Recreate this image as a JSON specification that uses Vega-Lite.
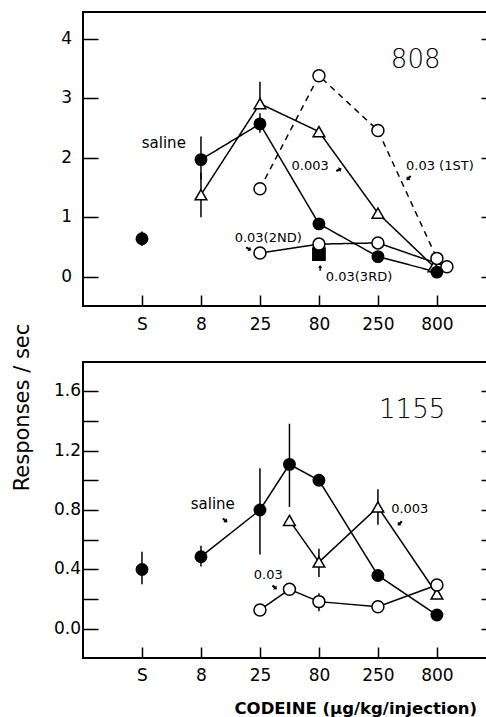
{
  "$schema": "https://vega.github.io/schema/vega-lite/v6.json",
  "autosize": {"type": "pad"},
  "padding": {"left": 9, "top": 11, "right": 0, "bottom": 0},
  "background": "white",
  "bounds": "flush",
  "spacing": 56,
  "config": {
    "view": {"stroke": "black", "strokeWidth": 2},
    "axis": {"domain": false, "grid": false, "ticks": false, "gridColor": "black", "gridWidth": 1.5, "gridOpacity": 1, "labelColor": "black", "labelFont": "DejaVu Sans", "labelFontSize": 17, "titleColor": "black"}
  },
  "datasets": {
    "pts": [
      {"p": "808", "g": null, "s": "fs", "d": null, "x": 3, "y": 0.38},
      {"p": "808", "g": "t", "s": "ot", "d": "solid", "x": 1, "y": 1.38, "lo": 1.0, "hi": 1.75},
      {"p": "808", "g": "t", "s": "ot", "d": "solid", "x": 2, "y": 2.91, "lo": 2.91, "hi": 3.28},
      {"p": "808", "g": "t", "s": "ot", "d": "solid", "x": 3, "y": 2.44},
      {"p": "808", "g": "t", "s": "ot", "d": "solid", "x": 4, "y": 1.07},
      {"p": "808", "g": "t", "s": "ot", "d": "solid", "x": 4.95, "y": 0.17},
      {"p": "808", "g": "c1", "s": "oc", "d": "dashed", "x": 2, "y": 1.48},
      {"p": "808", "g": "c1", "s": "oc", "d": "dashed", "x": 3, "y": 3.38},
      {"p": "808", "g": "c1", "s": "oc", "d": "dashed", "x": 4, "y": 2.46},
      {"p": "808", "g": "c1", "s": "oc", "d": "dashed", "x": 5, "y": 0.31},
      {"p": "808", "g": "c2", "s": "oc", "d": "solid", "x": 2, "y": 0.40},
      {"p": "808", "g": "c2", "s": "oc", "d": "solid", "x": 3, "y": 0.55},
      {"p": "808", "g": "c2", "s": "oc", "d": "solid", "x": 4, "y": 0.57},
      {"p": "808", "g": "c2", "s": "oc", "d": "solid", "x": 5.17, "y": 0.17},
      {"p": "808", "g": null, "s": "fc", "d": null, "x": 0, "y": 0.64, "lo": 0.52, "hi": 0.76},
      {"p": "808", "g": "sal", "s": "fc", "d": "solid", "x": 1, "y": 1.97, "lo": 1.63, "hi": 2.36},
      {"p": "808", "g": "sal", "s": "fc", "d": "solid", "x": 2, "y": 2.57, "lo": 2.42, "hi": 2.75},
      {"p": "808", "g": "sal", "s": "fc", "d": "solid", "x": 3, "y": 0.89},
      {"p": "808", "g": "sal", "s": "fc", "d": "solid", "x": 4, "y": 0.34},
      {"p": "808", "g": "sal", "s": "fc", "d": "solid", "x": 5, "y": 0.08},
      {"p": "1155", "g": "t", "s": "ot", "d": "solid", "x": 2.5, "y": 0.73},
      {"p": "1155", "g": "t", "s": "ot", "d": "solid", "x": 3, "y": 0.45, "lo": 0.35, "hi": 0.54},
      {"p": "1155", "g": "t", "s": "ot", "d": "solid", "x": 4, "y": 0.82, "lo": 0.70, "hi": 0.94},
      {"p": "1155", "g": "t", "s": "ot", "d": "solid", "x": 5, "y": 0.235},
      {"p": "1155", "g": "c", "s": "oc", "d": "solid", "x": 2, "y": 0.128},
      {"p": "1155", "g": "c", "s": "oc", "d": "solid", "x": 2.5, "y": 0.267},
      {"p": "1155", "g": "c", "s": "oc", "d": "solid", "x": 3, "y": 0.184, "lo": 0.12, "hi": 0.24},
      {"p": "1155", "g": "c", "s": "oc", "d": "solid", "x": 4, "y": 0.15},
      {"p": "1155", "g": "c", "s": "oc", "d": "solid", "x": 5, "y": 0.296},
      {"p": "1155", "g": null, "s": "fc", "d": null, "x": 0, "y": 0.40, "lo": 0.30, "hi": 0.52},
      {"p": "1155", "g": "sal", "s": "fc", "d": "solid", "x": 1, "y": 0.486, "lo": 0.42, "hi": 0.56},
      {"p": "1155", "g": "sal", "s": "fc", "d": "solid", "x": 2, "y": 0.80, "lo": 0.50, "hi": 1.08},
      {"p": "1155", "g": "sal", "s": "fc", "d": "solid", "x": 2.5, "y": 1.107, "lo": 0.82, "hi": 1.38},
      {"p": "1155", "g": "sal", "s": "fc", "d": "solid", "x": 3, "y": 1.0},
      {"p": "1155", "g": "sal", "s": "fc", "d": "solid", "x": 4, "y": 0.36},
      {"p": "1155", "g": "sal", "s": "fc", "d": "solid", "x": 5, "y": 0.094}
    ],
    "ann": [
      {"p": "808", "k": "big", "x": 4.64, "y": 3.65, "t": "808"},
      {"p": "808", "k": "sal", "x": 0.37, "y": 2.25, "t": "saline"},
      {"p": "808", "k": "small", "x": 2.85, "y": 1.87, "t": "0.003"},
      {"p": "808", "k": "small", "x": 5.05, "y": 1.87, "t": "0.03 (1ST)"},
      {"p": "808", "k": "small", "x": 2.14, "y": 0.65, "t": "0.03(2ND)"},
      {"p": "808", "k": "small", "x": 3.68, "y": -0.01, "t": "0.03(3RD)"},
      {"p": "1155", "k": "big", "x": 4.58, "y": 1.47, "t": "1155"},
      {"p": "1155", "k": "sal", "x": 1.2, "y": 0.84, "t": "saline"},
      {"p": "1155", "k": "small", "x": 4.54, "y": 0.81, "t": "0.003"},
      {"p": "1155", "k": "small", "x": 2.14, "y": 0.36, "t": "0.03"}
    ],
    "ylab": [
      {"p": "808", "v": 0, "t": "0"},
      {"p": "808", "v": 1, "t": "1"},
      {"p": "808", "v": 2, "t": "2"},
      {"p": "808", "v": 3, "t": "3"},
      {"p": "808", "v": 4, "t": "4"},
      {"p": "1155", "v": 0, "t": "0.0"},
      {"p": "1155", "v": 0.4, "t": "0.4"},
      {"p": "1155", "v": 0.8, "t": "0.8"},
      {"p": "1155", "v": 1.2, "t": "1.2"},
      {"p": "1155", "v": 1.6, "t": "1.6"}
    ],
    "arr": [
      {"p": "808", "x": 3.34, "y": 1.80, "dir": "r"},
      {"p": "808", "x": 4.52, "y": 1.66, "dir": "dl"},
      {"p": "808", "x": 1.81, "y": 0.47, "dir": "dr"},
      {"p": "808", "x": 3.02, "y": 0.15, "dir": "up"},
      {"p": "1155", "x": 1.41, "y": 0.73, "dir": "dr"},
      {"p": "1155", "x": 4.37, "y": 0.71, "dir": "dl"},
      {"p": "1155", "x": 2.25, "y": 0.28, "dir": "dr"}
    ]
  },
  "vconcat": [
    {
      "width": 407,
      "height": 294,
      "resolve": {"axis": {"x": "independent", "y": "independent"}},
      "layer": [
        {
          "data": {"name": "pts"},
          "transform": [{"filter": "datum.p == '808' && datum.lo != null"}],
          "mark": {"type": "rule", "color": "black", "strokeWidth": 1.5},
          "encoding": {
            "x": {"field": "x", "type": "quantitative", "scale": {"domain": [-1, 5.9], "nice": false, "zero": false},
              "axis": {"orient": "bottom", "values": [0, 1, 2, 3, 4, 5], "labelExpr": "datum.value == 0 ? 'S' : datum.value == 1 ? '8' : datum.value == 2 ? '25' : datum.value == 3 ? '80' : datum.value == 4 ? '250' : '800'", "labelPadding": 10, "title": null}},
            "y": {"field": "lo", "type": "quantitative", "scale": {"domain": [-0.49, 4.45], "nice": false, "zero": false},
              "axis": {"orient": "left", "values": [0, 1, 2, 3, 4], "grid": true, "gridDash": [15, 383, 9, 3000], "labels": false, "title": null}},
            "y2": {"field": "hi"}
          }
        },
        {
          "data": {"name": "pts"},
          "transform": [{"filter": "datum.p == '808'"}],
          "mark": {"type": "point", "opacity": 0},
          "encoding": {
            "x": {"field": "x", "type": "quantitative", "axis": {"orient": "top", "values": [0, 1, 2, 3, 4, 5], "labels": false, "grid": true, "gridDash": [11, 3000], "title": null}},
            "y": {"field": "y", "type": "quantitative", "axis": null}
          }
        },
        {
          "data": {"name": "ylab"},
          "transform": [{"filter": "datum.p == '808'"}],
          "mark": {"type": "text", "font": "DejaVu Sans", "fontSize": 17, "color": "black", "align": "right", "baseline": "middle", "dx": -11},
          "encoding": {
            "x": {"datum": -1, "type": "quantitative", "axis": null},
            "y": {"field": "v", "type": "quantitative", "axis": null},
            "text": {"field": "t"}
          }
        },
        {
          "data": {"name": "pts"},
          "transform": [{"filter": "datum.p == '808' && datum.g != null"}],
          "mark": {"type": "line", "color": "black", "strokeWidth": 1.5},
          "encoding": {
            "x": {"field": "x", "type": "quantitative", "axis": null},
            "y": {"field": "y", "type": "quantitative", "axis": null},
            "detail": {"field": "g"},
            "strokeDash": {"field": "d", "type": "nominal", "scale": {"domain": ["solid", "dashed"], "range": [[1, 0], [6, 5]]}, "legend": null}
          }
        },
        {
          "data": {"name": "pts"},
          "transform": [{"filter": "datum.p == '808'"}],
          "mark": {"type": "point", "filled": true, "stroke": "black", "strokeWidth": 1.5, "opacity": 1},
          "encoding": {
            "x": {"field": "x", "type": "quantitative", "axis": null},
            "y": {"field": "y", "type": "quantitative", "axis": null},
            "shape": {"field": "s", "type": "nominal", "scale": {"domain": ["fc", "ot", "oc", "fs"], "range": ["circle", "triangle-up", "circle", "square"]}, "legend": null},
            "fill": {"field": "s", "type": "nominal", "scale": {"domain": ["fc", "ot", "oc", "fs"], "range": ["black", "white", "white", "black"]}, "legend": null},
            "size": {"field": "s", "type": "nominal", "scale": {"domain": ["fc", "ot", "oc", "fs"], "range": [130, 150, 130, 110]}, "legend": null}
          }
        },
        {
          "data": {"name": "ann"},
          "transform": [{"filter": "datum.p == '808' && datum.k == 'big'"}],
          "mark": {"type": "text", "font": "DejaVu Sans", "fontSize": 26, "fontWeight": 300, "color": "black", "align": "center", "baseline": "middle"},
          "encoding": {"x": {"field": "x", "type": "quantitative", "axis": null}, "y": {"field": "y", "type": "quantitative", "axis": null}, "text": {"field": "t"}}
        },
        {
          "data": {"name": "ann"},
          "transform": [{"filter": "datum.p == '808' && datum.k == 'sal'"}],
          "mark": {"type": "text", "font": "DejaVu Sans", "fontSize": 15, "color": "black", "align": "center", "baseline": "middle"},
          "encoding": {"x": {"field": "x", "type": "quantitative", "axis": null}, "y": {"field": "y", "type": "quantitative", "axis": null}, "text": {"field": "t"}}
        },
        {
          "data": {"name": "ann"},
          "transform": [{"filter": "datum.p == '808' && datum.k == 'small'"}],
          "mark": {"type": "text", "font": "DejaVu Sans", "fontSize": 13, "color": "black", "align": "center", "baseline": "middle"},
          "encoding": {"x": {"field": "x", "type": "quantitative", "axis": null}, "y": {"field": "y", "type": "quantitative", "axis": null}, "text": {"field": "t"}}
        },
        {
          "data": {"name": "arr"},
          "transform": [{"filter": "datum.p == '808' && datum.dir == 'r'"}],
          "mark": {"type": "point", "shape": "M-0.18,0.5L0.18,0.5L0.18,0L0.45,0L0,-0.5L-0.45,0L-0.18,0Z", "angle": 65, "filled": true, "color": "black", "size": 140, "opacity": 1},
          "encoding": {"x": {"field": "x", "type": "quantitative", "axis": null}, "y": {"field": "y", "type": "quantitative", "axis": null}}
        },
        {
          "data": {"name": "arr"},
          "transform": [{"filter": "datum.p == '808' && datum.dir == 'dl'"}],
          "mark": {"type": "point", "shape": "M-0.18,0.5L0.18,0.5L0.18,0L0.45,0L0,-0.5L-0.45,0L-0.18,0Z", "angle": 225, "filled": true, "color": "black", "size": 140, "opacity": 1},
          "encoding": {"x": {"field": "x", "type": "quantitative", "axis": null}, "y": {"field": "y", "type": "quantitative", "axis": null}}
        },
        {
          "data": {"name": "arr"},
          "transform": [{"filter": "datum.p == '808' && datum.dir == 'dr'"}],
          "mark": {"type": "point", "shape": "M-0.18,0.5L0.18,0.5L0.18,0L0.45,0L0,-0.5L-0.45,0L-0.18,0Z", "angle": 120, "filled": true, "color": "black", "size": 140, "opacity": 1},
          "encoding": {"x": {"field": "x", "type": "quantitative", "axis": null}, "y": {"field": "y", "type": "quantitative", "axis": null}}
        },
        {
          "data": {"name": "arr"},
          "transform": [{"filter": "datum.p == '808' && datum.dir == 'up'"}],
          "mark": {"type": "point", "shape": "M-0.12,0.5L0.12,0.5L0.12,0L0.35,0L0,-0.5L-0.35,0L-0.12,0Z", "angle": 0, "filled": true, "color": "black", "size": 140, "opacity": 1},
          "encoding": {"x": {"field": "x", "type": "quantitative", "axis": null}, "y": {"field": "y", "type": "quantitative", "axis": null}}
        }
      ]
    },
    {
      "width": 407,
      "height": 296,
      "resolve": {"axis": {"x": "independent", "y": "independent"}},
      "layer": [
        {
          "data": {"name": "pts"},
          "transform": [{"filter": "datum.p == '1155' && datum.lo != null"}],
          "mark": {"type": "rule", "color": "black", "strokeWidth": 1.5},
          "encoding": {
            "x": {"field": "x", "type": "quantitative", "scale": {"domain": [-1, 5.9], "nice": false, "zero": false},
              "axis": {"orient": "bottom", "values": [0, 1, 2, 3, 4, 5], "labelExpr": "datum.value == 0 ? 'S' : datum.value == 1 ? '8' : datum.value == 2 ? '25' : datum.value == 3 ? '80' : datum.value == 4 ? '250' : '800'", "labelPadding": 9,
                "title": "CODEINE (µg/kg/injection)", "titleFont": "DejaVu Sans", "titleFontSize": 16.5, "titleFontWeight": "bold", "titleAlign": "left", "titleBaseline": "middle", "titleX": 151, "titleY": 50}},
            "y": {"field": "lo", "type": "quantitative", "scale": {"domain": [-0.195, 1.795], "nice": false, "zero": false},
              "axis": {"orient": "left", "values": [0, 0.2, 0.4, 0.6, 0.8, 1.0, 1.2, 1.4, 1.6], "grid": true, "gridDash": [15, 383, 9, 3000], "labels": false,
                "title": "Responses / sec", "titleFont": "DejaVu Sans", "titleFontSize": 21, "titleFontWeight": "normal", "titleAngle": 270, "titleAlign": "center", "titleBaseline": "middle", "titleX": -61, "titleY": 45}},
            "y2": {"field": "hi"}
          }
        },
        {
          "data": {"name": "pts"},
          "transform": [{"filter": "datum.p == '1155'"}],
          "mark": {"type": "point", "opacity": 0},
          "encoding": {
            "x": {"field": "x", "type": "quantitative", "axis": {"orient": "top", "values": [0, 1, 2, 3, 4, 5], "labels": false, "grid": true, "gridDash": [11, 3000], "title": null}},
            "y": {"field": "y", "type": "quantitative", "axis": null}
          }
        },
        {
          "data": {"name": "ylab"},
          "transform": [{"filter": "datum.p == '1155'"}],
          "mark": {"type": "text", "font": "DejaVu Sans", "fontSize": 17, "color": "black", "align": "right", "baseline": "middle", "dx": -2},
          "encoding": {
            "x": {"datum": -1, "type": "quantitative", "axis": null},
            "y": {"field": "v", "type": "quantitative", "axis": null},
            "text": {"field": "t"}
          }
        },
        {
          "data": {"name": "pts"},
          "transform": [{"filter": "datum.p == '1155' && datum.g != null"}],
          "mark": {"type": "line", "color": "black", "strokeWidth": 1.5},
          "encoding": {
            "x": {"field": "x", "type": "quantitative", "axis": null},
            "y": {"field": "y", "type": "quantitative", "axis": null},
            "detail": {"field": "g"}
          }
        },
        {
          "data": {"name": "pts"},
          "transform": [{"filter": "datum.p == '1155'"}],
          "mark": {"type": "point", "filled": true, "stroke": "black", "strokeWidth": 1.5, "opacity": 1},
          "encoding": {
            "x": {"field": "x", "type": "quantitative", "axis": null},
            "y": {"field": "y", "type": "quantitative", "axis": null},
            "shape": {"field": "s", "type": "nominal", "scale": {"domain": ["fc", "ot", "oc", "fs"], "range": ["circle", "triangle-up", "circle", "square"]}, "legend": null},
            "fill": {"field": "s", "type": "nominal", "scale": {"domain": ["fc", "ot", "oc", "fs"], "range": ["black", "white", "white", "black"]}, "legend": null},
            "size": {"field": "s", "type": "nominal", "scale": {"domain": ["fc", "ot", "oc", "fs"], "range": [130, 150, 130, 110]}, "legend": null}
          }
        },
        {
          "data": {"name": "ann"},
          "transform": [{"filter": "datum.p == '1155' && datum.k == 'big'"}],
          "mark": {"type": "text", "font": "DejaVu Sans", "fontSize": 26, "fontWeight": 300, "color": "black", "align": "center", "baseline": "middle"},
          "encoding": {"x": {"field": "x", "type": "quantitative", "axis": null}, "y": {"field": "y", "type": "quantitative", "axis": null}, "text": {"field": "t"}}
        },
        {
          "data": {"name": "ann"},
          "transform": [{"filter": "datum.p == '1155' && datum.k == 'sal'"}],
          "mark": {"type": "text", "font": "DejaVu Sans", "fontSize": 15, "color": "black", "align": "center", "baseline": "middle"},
          "encoding": {"x": {"field": "x", "type": "quantitative", "axis": null}, "y": {"field": "y", "type": "quantitative", "axis": null}, "text": {"field": "t"}}
        },
        {
          "data": {"name": "ann"},
          "transform": [{"filter": "datum.p == '1155' && datum.k == 'small'"}],
          "mark": {"type": "text", "font": "DejaVu Sans", "fontSize": 13, "color": "black", "align": "center", "baseline": "middle"},
          "encoding": {"x": {"field": "x", "type": "quantitative", "axis": null}, "y": {"field": "y", "type": "quantitative", "axis": null}, "text": {"field": "t"}}
        },
        {
          "data": {"name": "arr"},
          "transform": [{"filter": "datum.p == '1155' && datum.dir == 'dr'"}],
          "mark": {"type": "point", "shape": "M-0.18,0.5L0.18,0.5L0.18,0L0.45,0L0,-0.5L-0.45,0L-0.18,0Z", "angle": 130, "filled": true, "color": "black", "size": 140, "opacity": 1},
          "encoding": {"x": {"field": "x", "type": "quantitative", "axis": null}, "y": {"field": "y", "type": "quantitative", "axis": null}}
        },
        {
          "data": {"name": "arr"},
          "transform": [{"filter": "datum.p == '1155' && datum.dir == 'dl'"}],
          "mark": {"type": "point", "shape": "M-0.18,0.5L0.18,0.5L0.18,0L0.45,0L0,-0.5L-0.45,0L-0.18,0Z", "angle": 225, "filled": true, "color": "black", "size": 140, "opacity": 1},
          "encoding": {"x": {"field": "x", "type": "quantitative", "axis": null}, "y": {"field": "y", "type": "quantitative", "axis": null}}
        }
      ]
    }
  ]
}
